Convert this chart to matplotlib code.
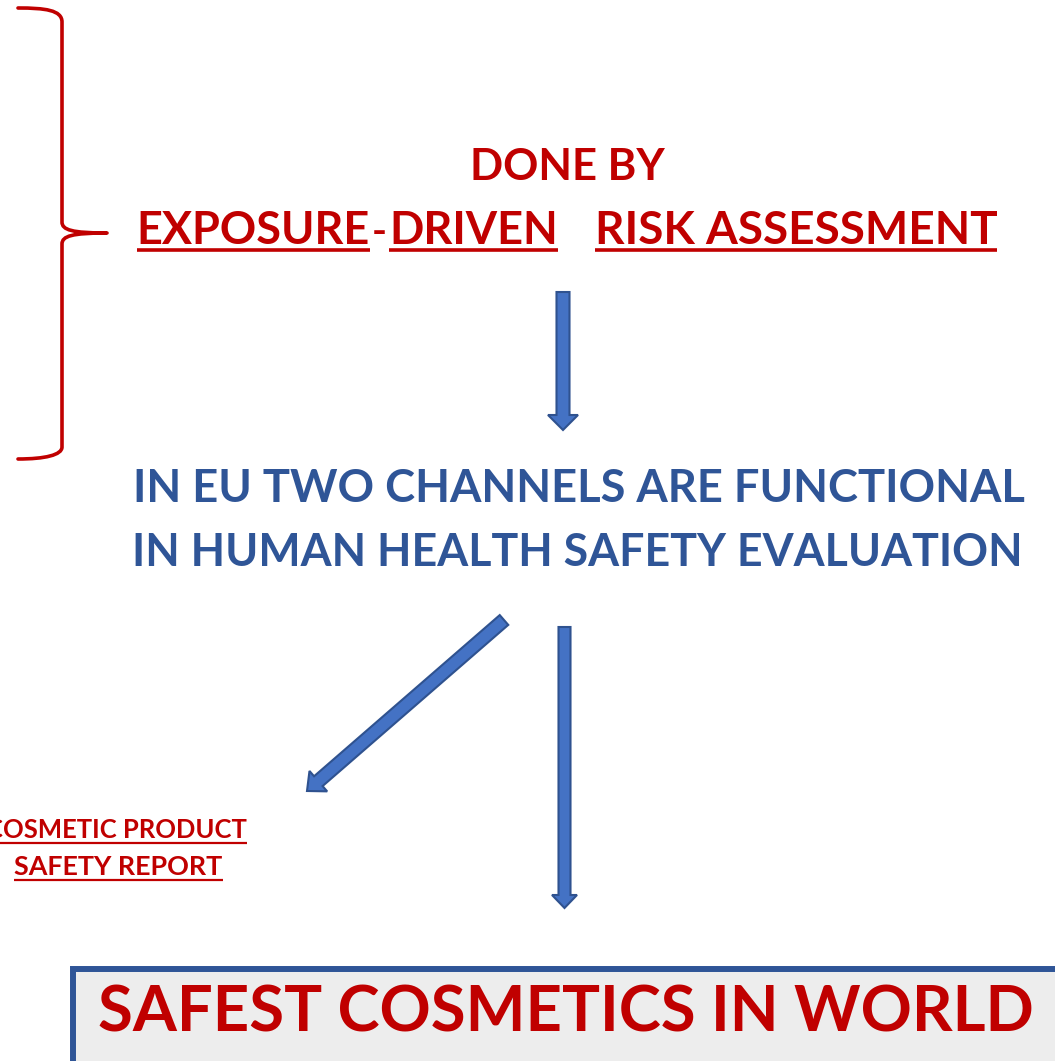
import matplotlib
matplotlib.use("Agg")
import matplotlib.pyplot as plt
from matplotlib.patches import FancyArrow, Rectangle, PathPatch
from matplotlib.path import Path

W, H = 1055, 1061
RED = "#C00000"
BLUE_TXT = "#2F5597"
ARROW_FC = "#4472C4"
ARROW_EC = "#2F528F"
FONT = ["Lato", "DejaVu Sans"]

# text content
title_top = "DONE BY"
title_parts = ["EXPOSURE", "-", "DRIVEN", "RISK ASSESSMENT"]
channel_lines = ["IN EU TWO CHANNELS ARE FUNCTIONAL", "IN HUMAN HEALTH SAFETY EVALUATION"]
report_lines = ["COSMETIC PRODUCT", "SAFETY REPORT"]
bottom_text = "SAFEST COSMETICS IN WORLD"

fig = plt.figure(figsize=(W / 100, H / 100), dpi=100)
ax = fig.add_axes([0, 0, 1, 1])
ax.set_xlim(0, W)
ax.set_ylim(H, 0)
ax.axis("off")
fig.canvas.draw()
renderer = fig.canvas.get_renderer()


def fit_text(s, x0, x1, ybase, color, size0=30):
    """Place text on baseline ybase whose rendered width spans x0..x1 (pixels)."""
    t = ax.text((x0 + x1) / 2, ybase, s, ha="center", va="baseline", color=color,
                fontsize=size0, fontweight="bold", family=FONT)
    bb = t.get_window_extent(renderer)
    t.set_fontsize(size0 * (x1 - x0) / bb.width)
    return t


def underline(x0, x1, y, lw=2.6):
    ax.plot([x0, x1], [y, y], color=RED, lw=lw, solid_capstyle="butt")


# brace
verts = [(18, 8), (45, 8), (62, 10), (62, 22), (62, 222),
         (62, 230), (72, 233), (107, 233),
         (72, 233), (62, 236), (62, 244), (62, 447),
         (62, 455), (45, 459), (18, 459)]
codes = [Path.MOVETO, Path.CURVE4, Path.CURVE4, Path.CURVE4, Path.LINETO,
         Path.CURVE4, Path.CURVE4, Path.CURVE4,
         Path.CURVE4, Path.CURVE4, Path.CURVE4, Path.LINETO,
         Path.CURVE4, Path.CURVE4, Path.CURVE4]
ax.add_patch(PathPatch(Path(verts, codes), fc="none", ec=RED, lw=2.6,
                       capstyle="round", joinstyle="round"))

# DONE BY
fit_text(title_top, 470, 665, 180, RED)
# EXPOSURE-DRIVEN   RISK ASSESSMENT
spans = [(137, 370), (372, 387), (389, 558), (595, 997)]
for s, (a, b) in zip(title_parts, spans):
    fit_text(s, a, b, 244, RED)
for s, (a, b) in zip(title_parts, spans):
    if s != "-":
        underline(a, b, 250)

# arrows
def arrow(x0, y0, x1, y1, w, hw, hl):
    ax.add_patch(FancyArrow(x0, y0, x1 - x0, y1 - y0, width=w, head_width=hw,
                            head_length=hl, length_includes_head=True,
                            fc=ARROW_FC, ec=ARROW_EC, lw=1.5, joinstyle="miter"))

arrow(563, 292, 563, 430, 13, 30, 15)
arrow(504, 620, 307, 791, 13, 27, 15)
arrow(564.5, 627, 564.5, 908, 12, 25, 13)

# blue lines
fit_text(channel_lines[0], 133, 1025, 502, BLUE_TXT)
fit_text(channel_lines[1], 133, 1022, 566, BLUE_TXT)

# cosmetic product safety report (clipped on the left, as in the reference)
fit_text(report_lines[0], -14, 247, 838, RED)
underline(-14, 247, 843, lw=1.6)
fit_text(report_lines[1], 14, 223, 875, RED)
underline(14, 223, 880, lw=1.6)

# bottom box
ax.add_patch(Rectangle((73, 969), 1000, 120, fc="#EDEDED", ec=BLUE_TXT, lw=4.3))
fit_text(bottom_text, 98, 1033, 1032, RED)

fig.savefig("out.png", dpi=100)
